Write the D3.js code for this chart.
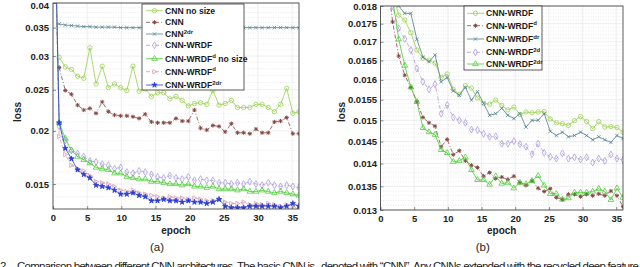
<!DOCTYPE html>
<html><head><meta charset="utf-8">
<script src="https://cdn.jsdelivr.net/npm/d3@7"></script>
<style>
body{margin:0;background:#fff}
svg{display:block}
text{font-family:"Liberation Sans",Arial,sans-serif}
</style>
</head><body><svg id="c" width="640" height="267"></svg>
<script>
// ---------------- data ----------------
const epochs = [0,0.9,1.8,2.7,3.6,4.5,5.4,6.3,7.2,8.1,9,9.9,10.8,11.7,12.6,13.5,14.4,15.3,16.2,17.1,18,
  18.9,19.8,20.7,21.6,22.5,23.4,24.3,25.2,26.1,27,27.9,28.8,29.7,30.6,31.5,32.4,33.3,34.2,35.1,36];
const xTicks = [0,5,10,15,20,25,30,35];

// panel (a)
const cnnNoSize = [null,0.0298,0.0283,0.0279,0.0269,0.0266,0.0314,0.0258,0.0284,0.0253,0.0258,
  0.0253,0.0249,0.0284,0.0248,0.0251,0.0241,0.0246,0.0246,0.0238,0.0241,
  0.0236,0.0229,0.0232,0.0233,0.0231,0.0249,0.0230,0.0232,0.0236,0.0227,
  0.0227,0.0227,0.0231,0.0231,0.0227,0.0222,0.0231,0.0252,0.0220,0.0222];
const cnn = [null,0.0282,0.0249,0.0244,0.0230,0.0224,0.0226,0.0220,0.0234,0.0222,0.0218,
  0.0217,0.0217,0.0216,0.0214,0.0219,0.0210,0.0209,0.0209,0.0209,0.0214,
  0.0211,0.0211,0.0224,0.0203,0.0201,0.0206,0.0205,0.0199,0.0208,0.0198,
  0.0198,0.0197,0.0202,0.0198,0.0198,0.0210,0.0211,0.0215,0.0197,0.0197];
const cnn2dr = [null,0.0357,0.0355,0.0354,0.0353,0.0352,0.0352,0.0351,0.0351,0.0351,0.0351,
  0.0350,0.0350,0.0350,0.0350,0.0350,0.0350,0.0350,0.0350,0.0350,0.0350,
  0.0350,0.0350,0.0350,0.0350,0.0350,0.0350,0.0350,0.0350,0.0350,0.0350,
  0.0350,0.0350,0.0350,0.0350,0.0350,0.0350,0.0350,0.0350,0.0350,0.0350];
const wrdf = [0.1,0.0205,0.0190,0.0180,0.0177,0.0174,0.0170,0.0169,0.0167,0.0166,0.0163,
  0.0164,0.0160,0.0159,0.0161,0.0160,0.0158,0.0156,0.0155,0.0157,0.0155,
  0.0154,0.0156,0.0153,0.0154,0.0153,0.0153,0.0151,0.0151,0.0150,0.0151,
  0.0150,0.0152,0.0150,0.0149,0.0151,0.0149,0.0148,0.0149,0.0148,0.0147];
const wrdfDNoSize = [0.1,0.0209,0.0192,0.0180,0.0174,0.0171,0.0168,0.0164,0.0163,0.0162,0.0159,
  0.0159,0.0156,0.0155,0.0154,0.0154,0.0152,0.0152,0.0151,0.0150,0.0150,
  0.0149,0.0150,0.0148,0.0148,0.0147,0.0148,0.0146,0.0146,0.0146,0.0145,
  0.0146,0.0144,0.0144,0.0145,0.0144,0.0143,0.0144,0.0143,0.0142,0.0141];
const wrdfD = [0.1,0.0194,0.0176,0.0166,0.0163,0.0161,0.0157,0.0152,0.0151,0.0150,0.0148,
  0.0145,0.0144,0.0145,0.0143,0.0142,0.0141,0.0140,0.0139,0.0140,0.0139,
  0.0139,0.0138,0.0139,0.0138,0.0137,0.0137,0.0138,0.0136,0.0135,0.0135,
  0.0136,0.0134,0.0135,0.0134,0.0135,0.0134,0.0133,0.0134,0.0133,0.0131];
const wrdf2dr = [0.1,0.0209,0.0182,0.0172,0.0162,0.0158,0.0155,0.0149,0.0148,0.0147,0.0145,
  0.0142,0.0142,0.0143,0.0141,0.0140,0.0137,0.0137,0.0138,0.0137,0.0137,
  0.0136,0.0137,0.0136,0.0136,0.0135,0.0136,0.0138,0.0133,0.0132,0.0132,
  0.0132,0.0133,0.0133,0.0133,0.0133,0.0133,0.0132,0.0133,0.0135,0.0133];
const yTicksA = [0.015,0.02,0.025,0.03,0.035,0.04];
const yLabelsA = ["0.015","0.02","0.025","0.03","0.035","0.04"];

// panel (b)
const rWrdf = [null,0.0200,0.0184,0.01774,0.01760,0.01725,0.01678,0.01656,0.01651,0.01643,0.01606,
  0.01615,0.01576,0.01563,0.01585,0.01579,0.01554,0.01541,0.01539,0.01549,0.01536,
  0.01525,0.01532,0.01514,0.01520,0.01518,0.01520,0.01521,0.01503,0.01494,0.01492,
  0.01488,0.01499,0.01509,0.01497,0.01480,0.01497,0.01484,0.01485,0.01483,0.01472];
const rWrdfD = [null,0.0190,0.01755,0.01662,0.01612,0.01581,0.01545,0.01507,0.01494,0.01486,0.01438,
  0.01455,0.01420,0.01429,0.01406,0.01396,0.01391,0.01372,0.01380,0.01367,0.01370,
  0.01365,0.01372,0.01358,0.01352,0.01362,0.01346,0.01339,0.01345,0.01326,0.01322,
  0.01333,0.01333,0.01328,0.01333,0.01330,0.01334,0.01330,0.01340,0.01330,0.01307];
const rWrdfDr = [null,0.0195,0.0186,0.0180,0.01779,0.01779,0.01707,0.01659,0.01647,0.01665,0.01595,
  0.01606,0.01572,0.01561,0.01581,0.01549,0.01570,0.01541,0.01512,0.01516,0.01529,
  0.01512,0.01504,0.01516,0.01484,0.01500,0.01500,0.01516,0.01474,0.01464,0.01472,
  0.01461,0.01464,0.01472,0.01464,0.01454,0.01461,0.01454,0.01448,0.01464,0.01457];
const rWrdf2d = [null,0.0192,0.0180,0.01737,0.01708,0.01678,0.01629,0.01595,0.01576,0.01589,0.01516,
  0.01537,0.01507,0.01500,0.01494,0.01478,0.01477,0.01468,0.01461,0.01462,0.01445,
  0.01445,0.01451,0.01444,0.01438,0.01421,0.01445,0.01424,0.01415,0.01411,0.01423,
  0.01411,0.01414,0.01409,0.01414,0.01402,0.01411,0.01406,0.01420,0.01411,0.01408];
const rWrdf2dr = [null,0.0205,0.0182,0.01707,0.01637,0.01581,0.01545,0.01482,0.01472,0.01466,0.01431,
  0.01424,0.01404,0.01406,0.01414,0.01386,0.01364,0.01364,0.01354,0.01372,0.01356,
  0.01358,0.01346,0.01358,0.01355,0.01362,0.01373,0.01352,0.01334,0.01334,0.01322,
  0.01325,0.01337,0.01337,0.01337,0.01339,0.01345,0.01339,0.01321,0.01346,0.01326];
const yTicksB = [0.013,0.0135,0.014,0.0145,0.015,0.0155,0.016,0.0165,0.017,0.0175,0.018];
const yLabelsB = ["0.013","0.0135","0.014","0.0145","0.015","0.0155","0.016","0.0165","0.017","0.0175","0.018"];

// ---------------- styles ----------------
const C = {lgreen:"#96cf4a", brown:"#874844", teal:"#52828f", lav:"#aa98da", green:"#46cc30", pink:"#d39bad", blue:"#2b3ed8"};
const DASHDOT = "4,2,1,2";

function markerPath(type){
  switch(type){
    case "circle": return d3.symbol(d3.symbolCircle, 15)();
    case "diamond": return d3.symbol(d3.symbolDiamond, 14)();
    case "tri": return d3.symbol(d3.symbolTriangle, 14)();
    case "triR": return "M-1.7,-2.2L2.4,0L-1.7,2.2Z";
    case "x": return "M-1.7,-1.7L1.7,1.7M-1.7,1.7L1.7,-1.7";
    case "ast": return "M0,-2.1V2.1M-2.1,0H2.1M-1.5,-1.5L1.5,1.5M-1.5,1.5L1.5,-1.5";
    case "star": return d3.symbol(d3.symbolStar, 9)();
  }
}
function styleMarker(sel, s){
  const filled = s.marker==="star";
  sel.attr("d", markerPath(s.marker))
     .attr("fill", filled ? s.color : "none")
     .attr("stroke", s.color)
     .attr("stroke-width", s.marker==="ast" ? 1 : 0.75);
}

const svg = d3.select("#c");

function panel(cfg, id){
  const x = d3.scaleLinear().domain([0,36]).range([cfg.x0, cfg.x1]);
  const y = d3.scaleLog().domain(cfg.yDomain).range([cfg.yb, cfg.yt]);
  const g = svg.append("g");
  svg.append("clipPath").attr("id","clip"+id).append("rect")
     .attr("x",cfg.x0).attr("y",cfg.yt).attr("width",cfg.x1-cfg.x0).attr("height",cfg.yb-cfg.yt);
  // minor grid
  g.append("g").selectAll("line").data(cfg.minor).join("line")
    .attr("x1",cfg.x0).attr("x2",cfg.x1).attr("y1",d=>y(d)).attr("y2",d=>y(d))
    .attr("stroke","#d6d6d6").attr("stroke-width",0.5).attr("stroke-dasharray","1,1.5");
  // major grid
  g.append("g").selectAll("line").data(cfg.yTicks).join("line")
    .attr("x1",cfg.x0).attr("x2",cfg.x1).attr("y1",d=>y(d)).attr("y2",d=>y(d))
    .attr("stroke","#e2e2e2").attr("stroke-width",0.6);
  g.append("g").selectAll("line").data(xTicks).join("line")
    .attr("x1",d=>x(d)).attr("x2",d=>x(d)).attr("y1",cfg.yt).attr("y2",cfg.yb)
    .attr("stroke","#e2e2e2").attr("stroke-width",0.6);
  // series
  const plot = g.append("g").attr("clip-path","url(#clip"+id+")");
  cfg.series.forEach(s=>{
    const pts = epochs.map((e,i)=>({e, v:s.values[i]})).filter(p=>p.v!=null);
    const line = d3.line().x(p=>x(p.e)).y(p=>y(p.v));
    plot.append("path").datum(pts).attr("d",line).attr("fill","none")
      .attr("stroke",s.color).attr("stroke-width",0.8)
      .attr("stroke-dasharray", s.dash ? DASHDOT : null);
    plot.append("g").selectAll("path").data(pts.filter(p=>p.e>0)).join("path")
      .attr("transform",p=>`translate(${x(p.e)},${y(p.v)})`)
      .call(styleMarker, s);
  });
  // axes
  const ax = g.append("g").attr("transform",`translate(0,${cfg.yb})`)
    .call(d3.axisBottom(x).tickValues(xTicks).tickSize(-3).tickPadding(5).tickFormat(d3.format("d")));
  const ay = g.append("g").attr("transform",`translate(${cfg.x0},0)`)
    .call(d3.axisLeft(y).tickValues(cfg.yTicks).tickSize(-3).tickPadding(cfg.ypad)
      .tickFormat((d,i)=>cfg.yLabels[i]));
  [ax,ay].forEach(a=>{
    a.select(".domain").remove();
    a.selectAll(".tick line").attr("stroke","#444").attr("stroke-width",0.6);
    a.selectAll("text").attr("font-size",9.5).attr("font-weight","bold").attr("fill","#222")
      .attr("font-family","'Liberation Sans',Arial,sans-serif");
  });
  // keep the top tick label inside the picture
  ay.selectAll(".tick text").filter(d=>y(d) < 5).attr("dy","0.55em");
  // box
  g.append("rect").attr("x",cfg.x0).attr("y",cfg.yt).attr("width",cfg.x1-cfg.x0).attr("height",cfg.yb-cfg.yt)
    .attr("fill","none").attr("stroke","#333").attr("stroke-width",0.8);
  // titles
  g.append("text").attr("x",(cfg.x0+cfg.x1)/2).attr("y",233.5).attr("text-anchor","middle")
    .attr("font-size",10).attr("font-weight","bold").attr("fill","#222").text("epoch");
  g.append("text").attr("transform",`translate(${cfg.ylx},112) rotate(-90)`).attr("text-anchor","middle")
    .attr("font-size",10).attr("font-weight","bold").attr("fill","#222").text("loss");
  g.append("text").attr("x",(cfg.x0+cfg.x1)/2-19).attr("y",250.5).attr("text-anchor","middle")
    .attr("font-family","'Liberation Serif','Times New Roman',serif").attr("font-size",11.5).attr("fill","#222")
    .text(cfg.caption);
  // legend
  const L = cfg.legend;
  const lg = g.append("g");
  lg.append("rect").attr("x",L.x).attr("y",L.y).attr("width",L.w).attr("height",L.h)
    .attr("fill","#fff").attr("stroke","#333").attr("stroke-width",0.8);
  cfg.series.forEach((s,i)=>{
    const ry = L.rows[i];
    lg.append("line").attr("x1",L.lx1).attr("x2",L.lx2).attr("y1",ry).attr("y2",ry)
      .attr("stroke",s.color).attr("stroke-width",0.8).attr("stroke-dasharray", s.dash ? DASHDOT : null);
    lg.append("path").attr("transform",`translate(${(L.lx1+L.lx2)/2},${ry})`).call(styleMarker, s);
    const t = lg.append("text").attr("x",L.tx).attr("y",ry+3).attr("font-size",8.6)
      .attr("font-weight","bold").attr("fill","#1a1a1a");
    t.append("tspan").text(s.name);
    if(s.sup){ t.append("tspan").attr("dy",-3.5).attr("font-size",6).text(s.sup); }
    if(s.tail){ t.append("tspan").attr("dy",3.5).text(s.tail); }
  });
}

panel({
  x0:53, x1:299, yt:3, yb:209, yDomain:[0.0131,0.04],
  yTicks:yTicksA, yLabels:yLabelsA, ypad:4, ylx:21,
  minor:d3.range(14,40).map(k=>k/1000).filter(v=>!yTicksA.some(t=>Math.abs(t-v)<1e-7)),
  caption:"(a)",
  series:[
    {name:"CNN no size", values:cnnNoSize, color:C.lgreen, marker:"circle"},
    {name:"CNN", values:cnn, color:C.brown, marker:"ast", dash:true},
    {name:"CNN", sup:"2dr", values:cnn2dr, color:C.teal, marker:"x"},
    {name:"CNN-WRDF", values:wrdf, color:C.lav, marker:"diamond", dash:true},
    {name:"CNN-WRDF", sup:"d", tail:" no size", values:wrdfDNoSize, color:C.green, marker:"tri"},
    {name:"CNN-WRDF", sup:"d", values:wrdfD, color:C.pink, marker:"triR", dash:true},
    {name:"CNN-WRDF", sup:"2dr", values:wrdf2dr, color:C.blue, marker:"star"}
  ],
  legend:{x:142, y:4, w:102, h:86, lx1:146, lx2:163, tx:165, rows:[10.7,22.3,34,45.3,58.7,71.7,85]}
}, "a");

panel({
  x0:380.5, x1:623, yt:6, yb:210, yDomain:[0.013,0.018],
  yTicks:yTicksB, yLabels:yLabelsB, ypad:3.5, ylx:345,
  minor:d3.range(130,180).map(k=>k/10000).filter(v=>!yTicksB.some(t=>Math.abs(t-v)<1e-7)),
  caption:"(b)",
  series:[
    {name:"CNN-WRDF", values:rWrdf, color:C.lgreen, marker:"circle"},
    {name:"CNN-WRDF", sup:"d", values:rWrdfD, color:C.brown, marker:"ast", dash:true},
    {name:"CNN-WRDF", sup:"dr", values:rWrdfDr, color:C.teal, marker:"x"},
    {name:"CNN-WRDF", sup:"2d", values:rWrdf2d, color:C.lav, marker:"diamond", dash:true},
    {name:"CNN-WRDF", sup:"2dr", values:rWrdf2dr, color:C.green, marker:"tri"}
  ],
  legend:{x:464, y:6, w:78, h:64, lx1:467, lx2:484, tx:486, rows:[13.3,25.7,39,52.3,64]}
}, "b");

// bottom caption text (the reference picture cuts it at its lower edge)
const serif = "'Liberation Serif','Times New Roman',serif";
svg.append("text").attr("x",0).attr("y",269.5).attr("font-family",serif).attr("font-size",11.5).attr("fill","#222").text("2.");
svg.append("text").attr("x",17).attr("y",269.5).attr("font-family",serif).attr("font-size",11.5).attr("fill","#222")
  .attr("textLength",298).attr("lengthAdjust","spacing")
  .text("Comparison between different CNN architectures. The basic CNN is");
svg.append("text").attr("x",321).attr("y",269.5).attr("font-family",serif).attr("font-size",11.5).attr("fill","#222")
  .attr("textLength",318).attr("lengthAdjust","spacing")
  .text("denoted with \u201cCNN\u201d. Any CNNs extended with the recycled deep feature");
</script>
</body></html>
